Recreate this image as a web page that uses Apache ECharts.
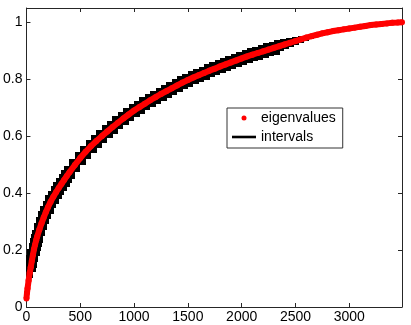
<!DOCTYPE html>
<html>
<head>
<meta charset="utf-8">
<script src="https://cdn.jsdelivr.net/npm/echarts@6/dist/echarts.min.js"></script>
<style>
  html, body { margin: 0; padding: 0; background: #fff; }
  #chart { width: 411px; height: 325px; }
</style>
</head>
<body>
<div id="chart"></div>
<script>
// eigenvalue index (x) and value (y)
const xs = [
  0, 5, 10, 20, 30, 40, 50, 60, 70, 80, 90, 100, 120, 140, 160, 180, 200,
  225, 250, 275, 300, 325, 350, 375, 400, 450, 500,
  550, 600, 650, 700, 750, 800, 850, 900, 950, 1000,
  1050, 1100, 1150, 1200, 1250, 1300, 1350, 1400, 1450, 1500,
  1550, 1600, 1650, 1700, 1750, 1800, 1850, 1900, 1950, 2000,
  2050, 2100, 2150, 2200, 2250, 2300, 2350, 2400, 2450, 2500,
  2550, 2600, 2650, 2700, 2750, 2800, 2850, 2900, 2950, 3000,
  3050, 3100, 3150, 3200, 3250, 3300, 3350, 3400, 3450, 3490
];
const eigenvalues = [
  0.03, 0.05, 0.065, 0.093, 0.12, 0.14, 0.162, 0.183, 0.203, 0.219, 0.234, 0.248, 0.272, 0.294, 0.314, 0.333, 0.35,
  0.37, 0.387, 0.403, 0.418, 0.432, 0.446, 0.46, 0.473, 0.499, 0.523,
  0.545, 0.565, 0.583, 0.600, 0.616, 0.632, 0.647, 0.662, 0.676, 0.690,
  0.702, 0.714, 0.726, 0.737, 0.748, 0.758, 0.768, 0.778, 0.788, 0.797,
  0.806, 0.814, 0.822, 0.830, 0.837, 0.845, 0.852, 0.859, 0.866, 0.873,
  0.880, 0.886, 0.892, 0.898, 0.904, 0.910, 0.916, 0.922, 0.928, 0.934,
  0.940, 0.946, 0.951, 0.956, 0.961, 0.965, 0.969, 0.972, 0.975, 0.978,
  0.981, 0.984, 0.987, 0.990, 0.992, 0.994, 0.996, 0.998, 0.999, 1.000
];
// half height of each interval around its eigenvalue
const intervalHalf = [
  0.003, 0.006, 0.009, 0.013, 0.017, 0.02, 0.022, 0.022, 0.022, 0.022, 0.022, 0.022, 0.022, 0.022, 0.022, 0.022, 0.022,
  0.022, 0.022, 0.022, 0.022, 0.022, 0.022, 0.022, 0.022, 0.022, 0.022,
  0.022, 0.022, 0.022, 0.022, 0.022, 0.022, 0.022, 0.022, 0.022, 0.022,
  0.022, 0.022, 0.022, 0.022, 0.022, 0.022, 0.022, 0.022, 0.022, 0.022,
  0.022, 0.022, 0.022, 0.022, 0.022, 0.022, 0.022, 0.022, 0.022, 0.022,
  0.022, 0.022, 0.022, 0.022, 0.022, 0.022, 0.020, 0.018, 0.016, 0.014,
  0.012, 0.010, 0.008, 0.006, 0.004, 0.002, 0, 0, 0, 0,
  0, 0, 0, 0, 0, 0, 0, 0, 0, 0
];
const xTickStep = 500;
const yTickStep = 0.2;

const FONT = "'Liberation Sans', Arial, sans-serif";
const AXIS_COLOR = '#262626';
// interval boxes are drawn roughly square on screen: x half-width per unit of y half-height
const BOX_ASPECT = 2300;

const chart = echarts.init(document.getElementById('chart'), null, { renderer: 'canvas' });

const intervalData = xs.map((x, i) => [x, eigenvalues[i], intervalHalf[i]]);

function axisCommon(extra) {
  return Object.assign({
    type: 'value',
    axisLine: { show: true, onZero: false, lineStyle: { color: AXIS_COLOR, width: 1 } },
    axisTick: { show: true, inside: true, length: 4, lineStyle: { color: AXIS_COLOR } },
    splitLine: { show: false }
  }, extra);
}

const xLabel = v => (v % xTickStep === 0 ? String(v) : '');
const yLabel = v => {
  const k = v / yTickStep;
  return Math.abs(k - Math.round(k)) < 1e-6 ? String(+v.toFixed(1)) : '';
};

chart.setOption({
  animation: false,
  grid: { left: 23, right: 9, top: 8, bottom: 18, containLabel: false },
  xAxis: [
    axisCommon({
      min: 0, max: 3490, interval: xTickStep, position: 'bottom',
      axisLabel: { margin: 3, fontSize: 14, color: '#000', fontFamily: FONT, formatter: xLabel }
    }),
    axisCommon({
      min: 0, max: 3490, interval: xTickStep, position: 'top',
      axisLabel: { show: false }
    })
  ],
  yAxis: [
    axisCommon({
      min: 0, max: 1.05, interval: yTickStep, position: 'left',
      axisLabel: { margin: 4, fontSize: 14, color: '#000', fontFamily: FONT, formatter: yLabel }
    }),
    axisCommon({
      min: 0, max: 1.05, interval: yTickStep, position: 'right',
      axisLabel: { show: false }
    })
  ],
  legend: {
    data: [
      { name: 'eigenvalues', icon: 'circle' },
      { name: 'intervals', icon: 'path://M0,0H24V2.6H0Z' }
    ],
    orient: 'vertical',
    left: 227,
    top: 108,
    itemWidth: 24,
    itemHeight: 5,
    itemGap: 3,
    padding: [2, 7, 3, 5],
    borderColor: '#333',
    borderWidth: 1,
    backgroundColor: '#fff',
    selectedMode: false,
    symbolKeepAspect: true,
    itemStyle: { borderWidth: 0 },
    textStyle: { fontSize: 14, color: '#000', fontFamily: FONT, lineHeight: 16 }
  },
  series: [
    {
      name: 'intervals',
      type: 'custom',
      clip: true,
      z: 1,
      itemStyle: { color: '#000' },
      encode: { x: 0, y: 1 },
      data: intervalData,
      renderItem(params, api) {
        const x = api.value(0), y = api.value(1), h = api.value(2);
        if (!h) return null;
        const hx = h * BOX_ASPECT;
        const p0 = api.coord([x - hx, y + h]);
        const p1 = api.coord([x + hx, y - h]);
        return {
          type: 'rect',
          shape: { x: Math.round(p0[0]), y: Math.round(p0[1]), width: Math.round(p1[0] - p0[0]), height: Math.round(p1[1] - p0[1]) },
          style: { fill: '#000' }
        };
      }
    },
    {
      name: 'eigenvalues',
      type: 'line',
      z: 2,
      data: xs.map((x, i) => [x, eigenvalues[i]]),
      symbol: 'circle',
      symbolSize: 6,
      showSymbol: true,
      lineStyle: { color: '#ff0000', width: 6 },
      itemStyle: { color: '#ff0000', borderWidth: 0 },
      emphasis: { disabled: true }
    }
  ]
});
</script>
</body>
</html>
